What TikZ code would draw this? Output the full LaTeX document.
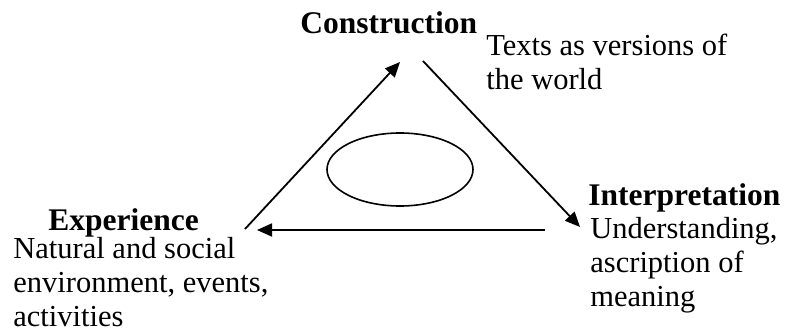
\documentclass[tikz,border=0pt]{standalone}
\usepackage{fontspec}
\setmainfont{Liberation Serif}
\usetikzlibrary{arrows.meta, positioning, shapes.geometric}

\begin{document}
\begin{tikzpicture}[
  x=0.5pt, y=-0.5pt,
  head/.style={
    font=\fontsize{15.75pt}{17pt}\selectfont\bfseries,
    inner sep=0pt,
    anchor=base west
  },
  desc/.style={
    font=\fontsize{15.25pt}{17pt}\selectfont,
    inner sep=0pt,
    anchor=north west,
    align=left
  },
  conn/.style={-{Triangle[length=7.5pt, width=6.5pt]}, line width=0.9pt}
]
\useasboundingbox (0,0) rectangle (788,332);

% Corner headings and their descriptions
\node[head] (construction) at (300,33) {Construction};
\node[desc] (constext) at (486,34) {Texts as versions of\\the world};

\node[head] (interpretation) at (588,205) {Interpretation};
\node[desc] (inttext) at (590,217) {Understanding,\\ascription of\\meaning};

\node[head] (experience) at (48,230) {Experience};
\node[desc] (exptext) at (13,237) {Natural and social\\environment, events,\\activities};

% Centre of the triangle
\node[draw, ellipse, line width=0.8pt, minimum width=73pt, minimum height=36.5pt] (core) at (400,169.5) {};

% Ends of the cycle arrows
\coordinate (exp-out) at (245,229);
\coordinate (con-in) at (400,62);
\coordinate (con-out) at (423,61);
\coordinate (int-in) at (580,227);
\coordinate (int-out) at (545,230);
\coordinate (exp-in) at (257,230);

\draw[conn] (exp-out) -- (con-in);
\draw[conn] (con-out) -- (int-in);
\draw[conn] (int-out) -- (exp-in);

\end{tikzpicture}
\end{document}
